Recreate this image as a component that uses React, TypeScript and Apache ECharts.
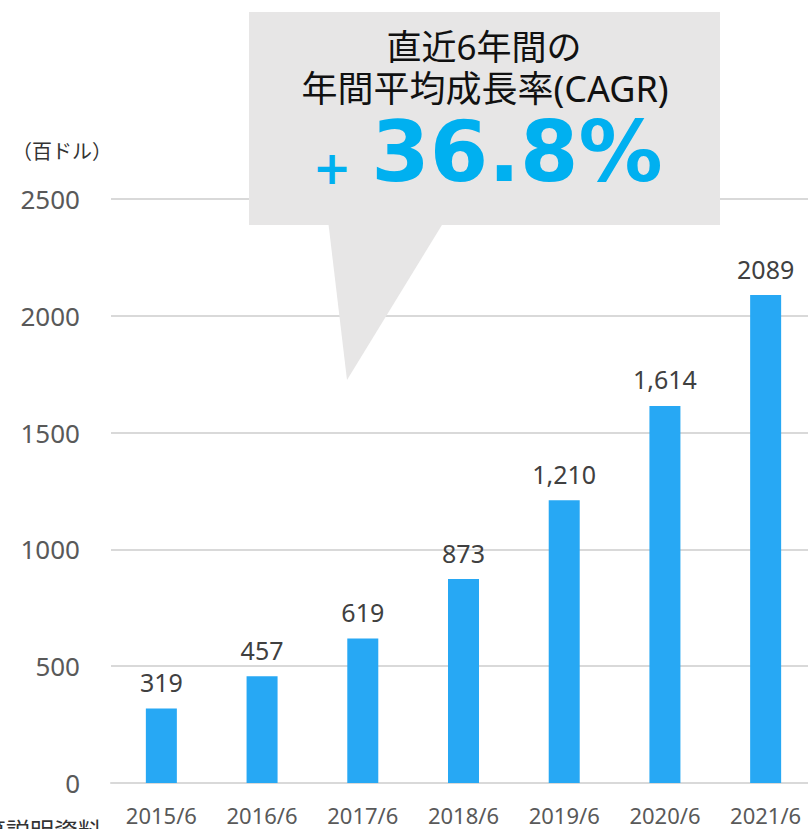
import React, { useEffect, useRef } from "react";
import * as echarts from "echarts";

const categories = ["2015/6", "2016/6", "2017/6", "2018/6", "2019/6", "2020/6", "2021/6"];
const values = [319, 457, 619, 873, 1210, 1614, 2089];
const valueLabels = ["319", "457", "619", "873", "1,210", "1,614", "2089"];
const yTicks = { min: 0, max: 2500, interval: 500 };
const unitLabel = "（百ドル）";
const calloutLine1 = "直近6年間の";
const calloutLine2 = "年間平均成長率(CAGR)";
const cagrValue = "36.8%";
const sourceNote = "（出所）決算説明資料";

export default function App() {
  const ref = useRef<HTMLDivElement>(null);
  useEffect(() => {
    if (!ref.current) return;
    const chart = echarts.init(ref.current, null, { renderer: "svg" });
    const font = "'Noto Sans', 'Noto Sans CJK JP', sans-serif";
    chart.setOption({
      animation: false,
      backgroundColor: "#ffffff",
      grid: { left: 111, right: 4, top: 199, bottom: 46, containLabel: false },
      xAxis: {
        type: "category",
        data: categories,
        axisLine: { lineStyle: { color: "#d9d9d9", width: 2 } },
        axisTick: { show: false },
        axisLabel: {
          color: "#595959",
          fontSize: 22,
          lineHeight: 18,
          fontFamily: font,
          margin: 23,
        },
      },
      yAxis: {
        type: "value",
        min: yTicks.min,
        max: yTicks.max,
        interval: yTicks.interval,
        axisLine: { show: false },
        axisTick: { show: false },
        splitLine: { lineStyle: { color: "#d9d9d9", width: 2 } },
        axisLabel: {
          color: "#595959",
          fontSize: 26,
          fontFamily: font,
          margin: 31,
          formatter: (v: number) => String(v),
        },
      },
      series: [
        {
          type: "bar",
          data: values,
          barWidth: 31,
          itemStyle: { color: "#27A8F4" },
          label: {
            show: true,
            position: "top",
            distance: 14,
            color: "#404040",
            fontSize: 25,
            fontFamily: font,
            formatter: (p: any) => valueLabels[p.dataIndex],
          },
        },
      ],
      graphic: [
        {
          type: "text",
          left: 12,
          top: 141,
          style: { text: unitLabel, fontSize: 20, fill: "#333333", fontFamily: font },
        },
        {
          type: "text",
          x: 102,
          y: 818,
          style: {
            text: sourceNote,
            fontSize: 24,
            fill: "#333333",
            fontFamily: font,
            align: "right",
            verticalAlign: "top",
          },
        },
        {
          type: "polygon",
          shape: { points: [[328, 220], [445, 220], [347, 380]] },
          style: { fill: "#e7e6e6" },
          z: 100,
        },
        {
          type: "rect",
          shape: { x: 249, y: 12, width: 471, height: 213 },
          style: { fill: "#e7e6e6" },
          z: 100,
        },
        {
          type: "text",
          x: 484,
          y: 46,
          style: {
            text: calloutLine1,
            fontSize: 35,
            lineHeight: 34,
            fill: "#111111",
            fontFamily: font,
            align: "center",
            verticalAlign: "middle",
          },
          z: 101,
        },
        {
          type: "text",
          x: 485,
          y: 88,
          style: {
            text: calloutLine2,
            fontSize: 36,
            lineHeight: 34,
            fill: "#111111",
            fontFamily: font,
            align: "center",
            verticalAlign: "middle",
          },
          z: 101,
        },
        {
          type: "text",
          x: 332,
          y: 168,
          style: {
            text: "+",
            fontSize: 46,
            fontWeight: "bold",
            fill: "#00B0F0",
            fontFamily: "'DejaVu Sans', sans-serif",
            align: "center",
            verticalAlign: "middle",
          },
          z: 101,
        },
        {
          type: "text",
          x: 517,
          y: 152,
          style: {
            text: cagrValue,
            fontSize: 84,
            lineHeight: 72,
            fontWeight: "bold",
            fill: "#00B0F0",
            fontFamily: "'DejaVu Sans', sans-serif",
            align: "center",
            verticalAlign: "middle",
          },
          z: 101,
        },
      ],
    });
    return () => chart.dispose();
  }, []);
  return (
    <div style={{ position: "fixed", left: 0, top: 0, width: 808, height: 829, overflow: "hidden", background: "#fff" }}>
      <div ref={ref} style={{ width: 820, height: 829 }} />
    </div>
  );
}
